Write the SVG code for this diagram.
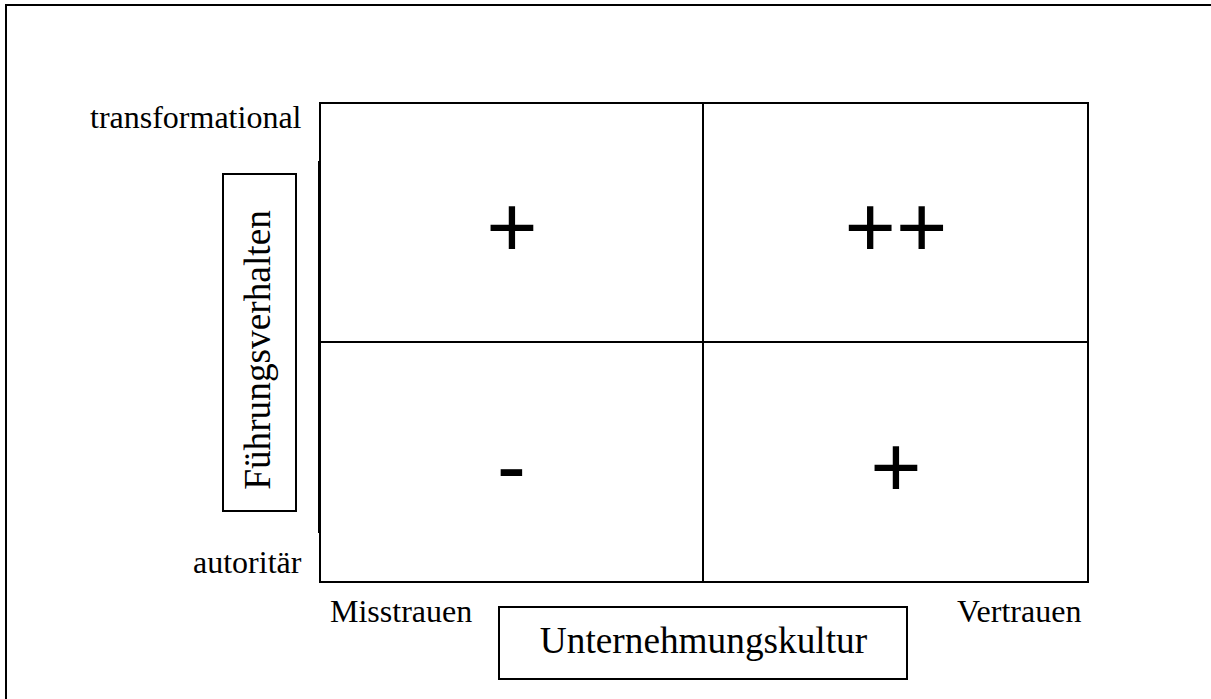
<svg xmlns="http://www.w3.org/2000/svg" width="1211" height="699" viewBox="0 0 1211 699">
  <style>
    .frame { fill: none; stroke: #000; stroke-width: 2; }
    .grid { fill: none; stroke: #000; stroke-width: 2; }
    .label { font-family: "Liberation Serif", "Times New Roman", serif; font-size: 32px; fill: #000; }
    .axis { font-family: "Liberation Serif", "Times New Roman", serif; font-size: 37.3px; fill: #000; }
    .sign { font-family: "Liberation Sans", Arial, sans-serif; font-size: 88px; fill: #000; text-anchor: middle; }
  </style>
  <rect width="1211" height="699" fill="#fff"/>

  <!-- page frame (runs off the right and bottom edges) -->
  <rect class="frame" x="6" y="5" width="1300" height="800" stroke="#222"/>

  <!-- 2x2 matrix -->
  <g id="matrix">
    <rect class="grid" x="320" y="103" width="768" height="479"/>
    <line class="grid" x1="703" y1="103" x2="703" y2="582"/>
    <line class="grid" x1="320" y1="342" x2="1088" y2="342"/>
    <line class="grid" x1="319" y1="161" x2="319" y2="533"/>
  </g>

  <!-- quadrant ratings -->
  <g id="q-top-left"><text class="sign" x="512" y="257">+</text></g>
  <g id="q-top-right"><text class="sign" x="896" y="257">++</text></g>
  <g id="q-bottom-left"><text class="sign" x="511.5" y="495.5">-</text></g>
  <g id="q-bottom-right"><text class="sign" x="896" y="497">+</text></g>

  <!-- vertical axis -->
  <g id="axis-y">
    <rect class="grid" x="223" y="174" width="73" height="337"/>
    <text class="axis" text-anchor="middle" transform="translate(270 350) rotate(-90)">Führungsverhalten</text>
  </g>
  <g id="label-top"><text class="label" x="90" y="128">transformational</text></g>
  <g id="label-bottom"><text class="label" x="193" y="573">autoritär</text></g>

  <!-- horizontal axis -->
  <g id="axis-x">
    <rect class="grid" x="499" y="607" width="408" height="72"/>
    <text class="axis" text-anchor="middle" x="703.5" y="653">Unternehmungskultur</text>
  </g>
  <g id="label-left"><text class="label" x="330" y="622">Misstrauen</text></g>
  <g id="label-right"><text class="label" x="957" y="622">Vertrauen</text></g>

  <g id="connectors"/>
</svg>
